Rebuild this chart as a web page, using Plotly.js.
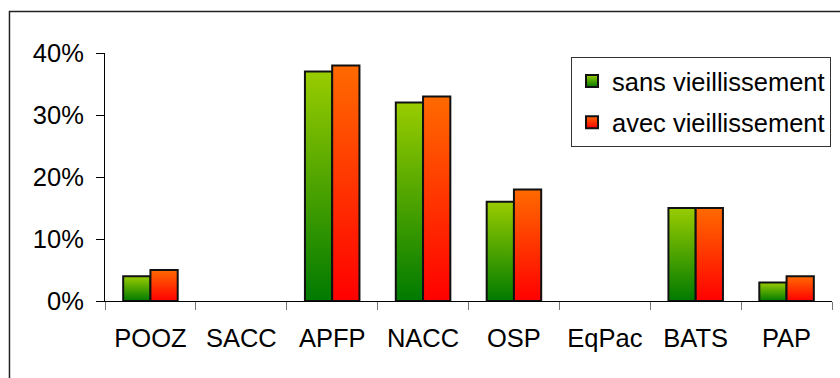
<!DOCTYPE html>
<html>
<head>
<meta charset="utf-8">
<script src="https://cdn.plot.ly/plotly-3.0.1.min.js"></script>
<style>html,body{margin:0;padding:0;background:#fff;}#chart{width:840px;height:378px;}</style>
</head>
<body>
<div id="chart"></div>
<script>
const categories = ["POOZ", "SACC", "APFP", "NACC", "OSP", "EqPac", "BATS", "PAP"];
const sansVieillissement = [4, 0, 37, 32, 16, 0, 15, 3];
const avecVieillissement = [5, 0, 38, 33, 18, 0, 15, 4];
const seriesNames = ["sans vieillissement", "avec vieillissement"];
const yTicks = [0, 10, 20, 30, 40];

const FONT = "Liberation Sans, Arial, sans-serif";
const FS = 25.5;
const lineW = vals => vals.map(v => (v === 0 ? 0 : 2));

const traces = [
  {
    type: "bar", name: seriesNames[0], x: categories, y: sansVieillissement,
    legendgroup: "a",
    marker: {color: "#55a600", line: {color: "#111", width: lineW(sansVieillissement)}}
  },
  {
    type: "bar", name: seriesNames[1], x: categories, y: avecVieillissement,
    legendgroup: "b",
    marker: {color: "#ff3300", line: {color: "#111", width: lineW(avecVieillissement)}}
  }
];

const layout = {
  width: 840, height: 378,
  margin: {l: 105, r: 8, t: 53, b: 77},
  paper_bgcolor: "#fff", plot_bgcolor: "#fff",
  font: {family: FONT, size: FS, color: "#000"},
  barmode: "group", bargap: 0.4, bargroupgap: 0,
  showlegend: true,
  legend: {
    x: 0.641, y: 0.984, xanchor: "left", yanchor: "top",
    bordercolor: "#333", borderwidth: 1, bgcolor: "#fff",
    font: {family: FONT, size: FS, color: "#000"},
    traceorder: "grouped", tracegroupgap: 5
  },
  xaxis: {
    type: "category", showgrid: false, zeroline: false,
    showline: true, linecolor: "#000", linewidth: 1,
    ticks: "outside", tickson: "boundaries", ticklen: 8, tickcolor: "#777", tickwidth: 1,
    ticklabelstandoff: 14,
    tickfont: {family: FONT, size: FS, color: "#000"}
  },
  yaxis: {
    range: [0, 40], showgrid: false, zeroline: false,
    showline: true, linecolor: "#000", linewidth: 1,
    tickvals: yTicks, ticktext: yTicks.map(v => v + "%"),
    ticks: "outside", ticklen: 8, tickcolor: "#000", tickwidth: 1,
    ticklabelstandoff: 7,
    tickfont: {family: FONT, size: FS, color: "#000"}
  },
  shapes: [{
    type: "rect", xref: "paper", yref: "paper",
    x0: -0.1314, x1: 1.2, y0: -0.6, y1: 1.167,
    line: {color: "#222", width: 1.5}, fillcolor: "rgba(0,0,0,0)", layer: "below"
  }]
};

function addGradients(gd) {
  const svg = gd.querySelector("svg.main-svg");
  const ns = "http://www.w3.org/2000/svg";
  let defs = svg.querySelector("defs");
  if (!defs) { defs = document.createElementNS(ns, "defs"); svg.insertBefore(defs, svg.firstChild); }
  const grads = [["gradGreen", "#99cc00", "#007a00"], ["gradRed", "#ff6a00", "#ff0000"]];
  grads.forEach(([id, c1, c2]) => {
    const lg = document.createElementNS(ns, "linearGradient");
    lg.setAttribute("id", id);
    lg.setAttribute("x1", "0"); lg.setAttribute("y1", "0");
    lg.setAttribute("x2", "0"); lg.setAttribute("y2", "1");
    const s1 = document.createElementNS(ns, "stop");
    s1.setAttribute("offset", "0"); s1.setAttribute("stop-color", c1);
    const s2 = document.createElementNS(ns, "stop");
    s2.setAttribute("offset", "1"); s2.setAttribute("stop-color", c2);
    lg.appendChild(s1); lg.appendChild(s2);
    defs.appendChild(lg);
  });
  const ids = ["gradGreen", "gradRed"];
  gd.querySelectorAll(".barlayer .trace").forEach((t, i) => {
    t.querySelectorAll("path").forEach(p => { p.style.fill = "url(#" + ids[i % 2] + ")"; });
  });
  gd.querySelectorAll(".legend .traces").forEach((t, i) => {
    t.querySelectorAll(".legendpoints path").forEach(p => { p.style.fill = "url(#" + ids[i % 2] + ")"; });
  });
}

Plotly.newPlot("chart", traces, layout, {staticPlot: true, displayModeBar: false})
  .then(addGradients);
</script>
</body>
</html>
